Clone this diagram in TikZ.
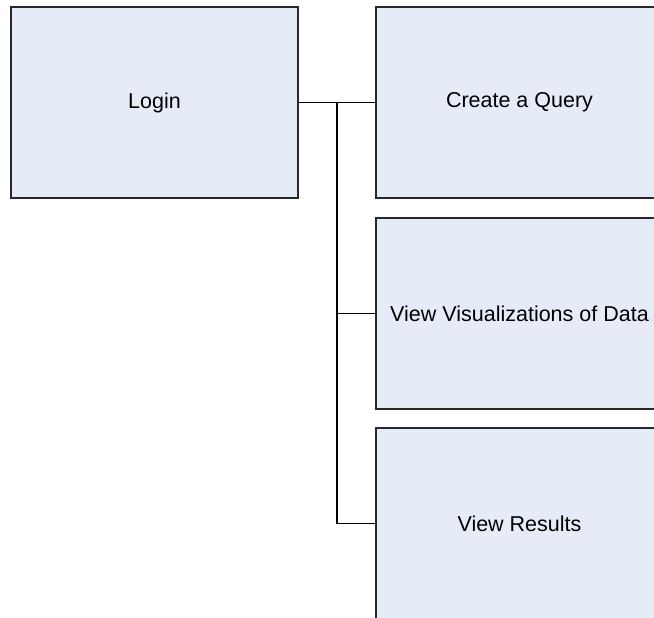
\documentclass[tikz,border=0pt]{standalone}
\usepackage{fontspec}
\setmainfont{Liberation Sans}
\definecolor{boxfill}{RGB}{230,236,247}
\definecolor{boxline}{RGB}{40,40,40}
\begin{document}
\begin{tikzpicture}[x=1pt,y=-1pt,
  taskbox/.style={draw=boxline, line width=1.1pt, fill=boxfill, rectangle,
    anchor=north west, minimum width=287pt, minimum height=191pt,
    inner sep=0pt, outer sep=0pt, font=\fontsize{21.5pt}{24pt}\selectfont},
  link/.style={draw=black, line width=1.4pt}]
  \useasboundingbox (0,0) rectangle (654,618);
  \clip (0,0) rectangle (654,618);
  \fill[white] (0,0) rectangle (654,618);

  % boxes
  \node[taskbox] (login) at (11,7) {Login};
  \node[taskbox] (query) at (376,7) {Create a Query};
  \node[taskbox] (vis) at (376,218) {View Visualizations of Data};
  \node[taskbox] (res) at (376,428) {View Results};

  % tree connectors
  \coordinate (trunk) at (337,103);
  \draw[link] (login.east) -- (query.west);
  \draw[link] (trunk) |- (res.west);
  \draw[link] (trunk |- vis.west) -- (vis.west);
\end{tikzpicture}
\end{document}
